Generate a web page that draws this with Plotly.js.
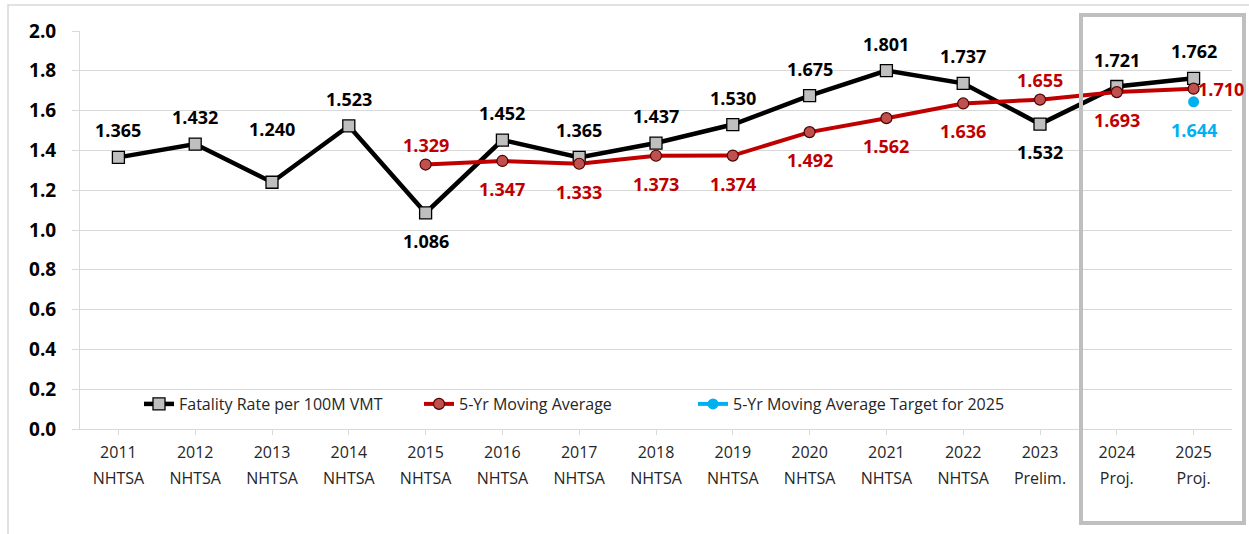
<!DOCTYPE html>
<html>
<head>
<meta charset="utf-8">
<script src="https://cdn.plot.ly/plotly-3.0.1.min.js"></script>
<style>html,body{margin:0;padding:0;background:#fff;}#chart{width:1249px;height:534px;}</style>
</head>
<body>
<div id="chart"></div>
<script>
// ---- data ----
var years = ['2011','2012','2013','2014','2015','2016','2017','2018','2019','2020','2021','2022','2023','2024','2025'];
var sources = ['NHTSA','NHTSA','NHTSA','NHTSA','NHTSA','NHTSA','NHTSA','NHTSA','NHTSA','NHTSA','NHTSA','NHTSA','Prelim.','Proj.','Proj.'];
var fatalityRate = [1.365,1.432,1.240,1.523,1.086,1.452,1.365,1.437,1.530,1.675,1.801,1.737,1.532,1.721,1.762];
var movingAvg = [null,null,null,null,1.329,1.347,1.333,1.373,1.374,1.492,1.562,1.636,1.655,1.693,1.710];
var targetYears = ['2025'];
var targetValues = [1.644];
var seriesNames = ['Fatality Rate per 100M VMT','5-Yr Moving Average','5-Yr Moving Average Target for 2025'];

// label placement (u = above, d = below, uu = high above, r = right)
var rateLabelPos = ['u','u','uu','u','d','u','u','u','u','u','u','u','d','u','u'];
var avgLabelPos  = [null,null,null,null,'u2','d','d','d','d','d','d','d','u2','d','r'];
var targetLabelPos = ['d'];

var FONT = 'Open Sans, Noto Sans, sans-serif';
var BLACK = '#000000', RED = '#c00000', BLUE = '#00b0f0';

var traces = [
  {x: years, y: fatalityRate, name: seriesNames[0], type: 'scatter', mode: 'lines+markers',
   line: {color: BLACK, width: 4.5}, legend: 'legend',
   marker: {symbol: 'square', size: 12, color: '#bfbfbf', line: {color: BLACK, width: 1.3}}},
  {x: years, y: movingAvg, name: seriesNames[1], type: 'scatter', mode: 'lines+markers',
   line: {color: RED, width: 4}, legend: 'legend2',
   marker: {symbol: 'circle', size: 11, color: '#c0504d', line: {color: '#4d0000', width: 1.2}}},
  {x: targetYears, y: targetValues, name: seriesNames[2], type: 'scatter', mode: 'lines+markers',
   xaxis: 'x2', line: {color: BLUE, width: 4}, legend: 'legend3',
   marker: {symbol: 'circle', size: 11, color: BLUE}}
];

function shiftFor(pos) {
  if (pos === 'u') return {yshift: 27, xshift: 0};
  if (pos === 'u2') return {yshift: 20, xshift: 0};
  if (pos === 'uu') return {yshift: 53, xshift: 0};
  if (pos === 'd') return {yshift: -28, xshift: 0};
  if (pos === 'r') return {yshift: 0, xshift: 27};
  return {yshift: 0, xshift: 0};
}

var annotations = [];
function addLabels(xs, ys, posArr, color, xref) {
  for (var i = 0; i < ys.length; i++) {
    if (ys[i] === null || posArr[i] === null) continue;
    var s = shiftFor(posArr[i]);
    annotations.push({
      x: years.indexOf(xs[i]), y: ys[i], xref: xref, yref: 'y', showarrow: false,
      text: ys[i].toFixed(3), xshift: s.xshift, yshift: s.yshift,
      font: {family: FONT, size: 18, color: color, weight: 'bold'}
    });
  }
}
addLabels(years, fatalityRate, rateLabelPos, BLACK, 'x');
addLabels(years, movingAvg, avgLabelPos, RED, 'x');
addLabels(targetYears, targetValues, targetLabelPos, BLUE, 'x');

function legendAt(px) {
  return {x: (px - 80) / 1152, y: (429 - 404) / 398, xanchor: 'left', yanchor: 'middle',
    orientation: 'h', bgcolor: 'rgba(0,0,0,0)', borderwidth: 0,
    font: {family: FONT, size: 16, color: '#262626'}};
}

var layout = {
  width: 1249, height: 534,
  margin: {l: 80, r: 17, t: 31, b: 105},
  paper_bgcolor: '#ffffff', plot_bgcolor: '#ffffff',
  showlegend: true,
  legend: legendAt(139),
  legend2: legendAt(419),
  legend3: legendAt(693),
  xaxis: {type: 'category', categoryorder: 'array', categoryarray: years, range: [-0.5, 14.5],
    tickmode: 'array', tickvals: years, ticktext: years, ticklabelstandoff: 4,
    showgrid: false, showline: true, linecolor: '#d9d9d9', linewidth: 1,
    ticks: 'outside', ticklen: 5, tickcolor: '#d9d9d9',
    tickfont: {family: FONT, size: 16, color: '#262626'}, fixedrange: true},
  xaxis2: {type: 'category', categoryorder: 'array', categoryarray: years, range: [-0.5, 14.5],
    overlaying: 'x', anchor: 'y', side: 'bottom',
    tickmode: 'array', tickvals: years, ticktext: sources, ticklabelstandoff: 38,
    showgrid: false, showline: false, ticks: '',
    tickfont: {family: FONT, size: 16, color: '#262626'}, fixedrange: true},
  yaxis: {range: [0, 2.0], dtick: 0.2, tick0: 0, tickformat: '.1f',
    showgrid: true, gridcolor: '#d9d9d9', gridwidth: 1, zeroline: false,
    showline: true, linecolor: '#d9d9d9', linewidth: 1,
    ticks: 'outside', ticklen: 7, tickcolor: '#d9d9d9', ticklabelstandoff: 12,
    tickfont: {family: FONT, size: 19, color: BLACK, weight: 'bold'}, fixedrange: true},
  annotations: annotations,
  shapes: [
    {type: 'rect', xref: 'paper', yref: 'paper', x0: (8 - 80) / 1152, x1: (1260 - 80) / 1152,
     y0: (429 - 5) / 398, y1: (429 - 545) / 398, line: {color: '#d9d9d9', width: 1.5}, layer: 'below'},
    {type: 'rect', xref: 'paper', yref: 'paper', x0: (1081 - 80) / 1152, x1: (1244 - 80) / 1152,
     y0: (429 - 15) / 398, y1: (429 - 523) / 398, line: {color: '#bfbfbf', width: 4}}
  ]
};

Plotly.newPlot('chart', traces, layout, {displayModeBar: false, staticPlot: true});
</script>
</body>
</html>
